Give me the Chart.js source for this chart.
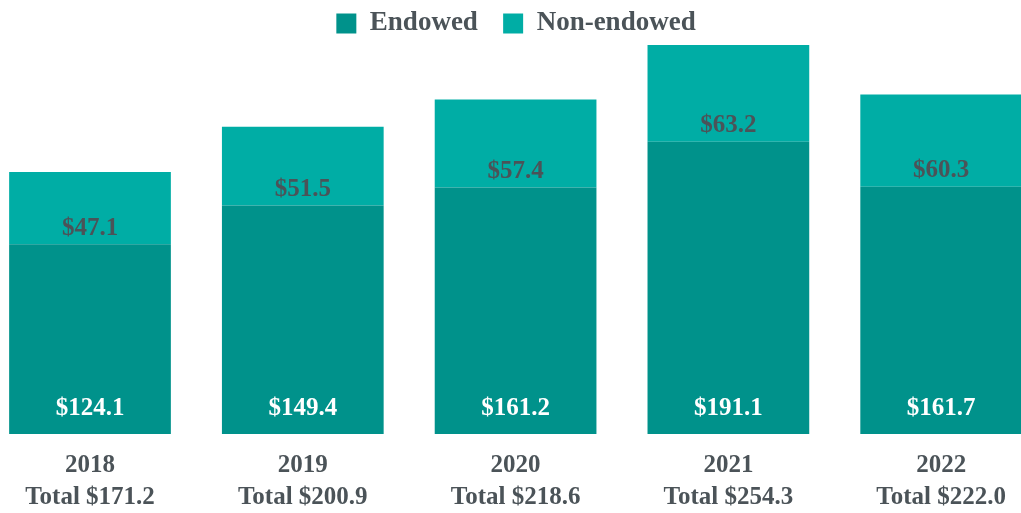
<!DOCTYPE html>
<html>
<head>
<meta charset="utf-8">
<script src="https://cdn.jsdelivr.net/npm/chart.js@4"></script>
<style>
  html, body { margin: 0; padding: 0; background: #fff; }
  #wrap { width: 1021px; height: 513px; position: relative; }
</style>
</head>
<body>
<div id="wrap"><canvas id="chart"></canvas></div>
<script>
// 数据
const years = ['2018', '2019', '2020', '2021', '2022'];
const endowed = [124.1, 149.4, 161.2, 191.1, 161.7];
const nonEndowed = [47.1, 51.5, 57.4, 63.2, 60.3];
const totals = ['171.2', '200.9', '218.6', '254.3', '222.0'];

const FONT = "'Liberation Serif', 'Times New Roman', serif";
const TEXT = '#4b5358';
const DARK = '#00928b';
const LIGHT = '#00ada5';

// 柱内数值标签
const barLabels = {
    id: 'barLabels',
    afterDatasetsDraw(chart) {
        const ctx = chart.ctx;
        ctx.save();
        ctx.font = 'bold 25px ' + FONT;
        ctx.textAlign = 'center';
        ctx.textBaseline = 'middle';
        chart.data.datasets.forEach((ds, i) => {
            const meta = chart.getDatasetMeta(i);
            meta.data.forEach((bar, j) => {
                const txt = '$' + ds.data[j].toFixed(1);
                if (i === 0) {
                    ctx.fillStyle = '#ffffff';
                    ctx.fillText(txt, bar.x, bar.base - 25);
                } else {
                    ctx.fillStyle = TEXT;
                    ctx.fillText(txt, bar.x, bar.base - 16);
                }
            });
        });
        ctx.restore();
    }
};

new Chart(document.getElementById('chart'), {
    type: 'bar',
    data: {
        labels: years.map((y, i) => [y, 'Total $' + totals[i]]),
        datasets: [
            { label: 'Endowed', data: endowed, backgroundColor: DARK, clip: false },
            { label: 'Non-endowed', data: nonEndowed, backgroundColor: LIGHT, clip: false }
        ]
    },
    options: {
        responsive: true,
        maintainAspectRatio: false,
        animation: false,
        categoryPercentage: 1,
        barPercentage: 0.76,
        layout: { padding: { left: 90, right: 79, top: 5, bottom: 0 } },
        plugins: {
            legend: {
                position: 'top',
                labels: {
                    boxWidth: 20,
                    boxHeight: 20,
                    padding: 5,
                    color: TEXT,
                    font: { family: FONT, size: 27, weight: 'bold' },
                    generateLabels(chart) {
                        const items = Chart.defaults.plugins.legend.labels.generateLabels(chart);
                        // 图例项之间留出间距
                        items.forEach((it, i) => {
                            if (i < items.length - 1) it.text = it.text + '   ';
                        });
                        return items;
                    }
                }
            },
            tooltip: { enabled: false }
        },
        scales: {
            x: {
                stacked: true,
                offset: false,
                grid: { display: false, drawTicks: false },
                border: { display: false },
                afterFit(scale) { scale.height = 79; },
                ticks: {
                    color: TEXT,
                    padding: 15,
                    maxRotation: 0,
                    font: { family: FONT, size: 25, weight: 'bold', lineHeight: 1.3 }
                }
            },
            y: {
                stacked: true,
                display: false,
                min: 0,
                max: 253.0
            }
        }
    },
    plugins: [barLabels]
});
</script>
</body>
</html>
